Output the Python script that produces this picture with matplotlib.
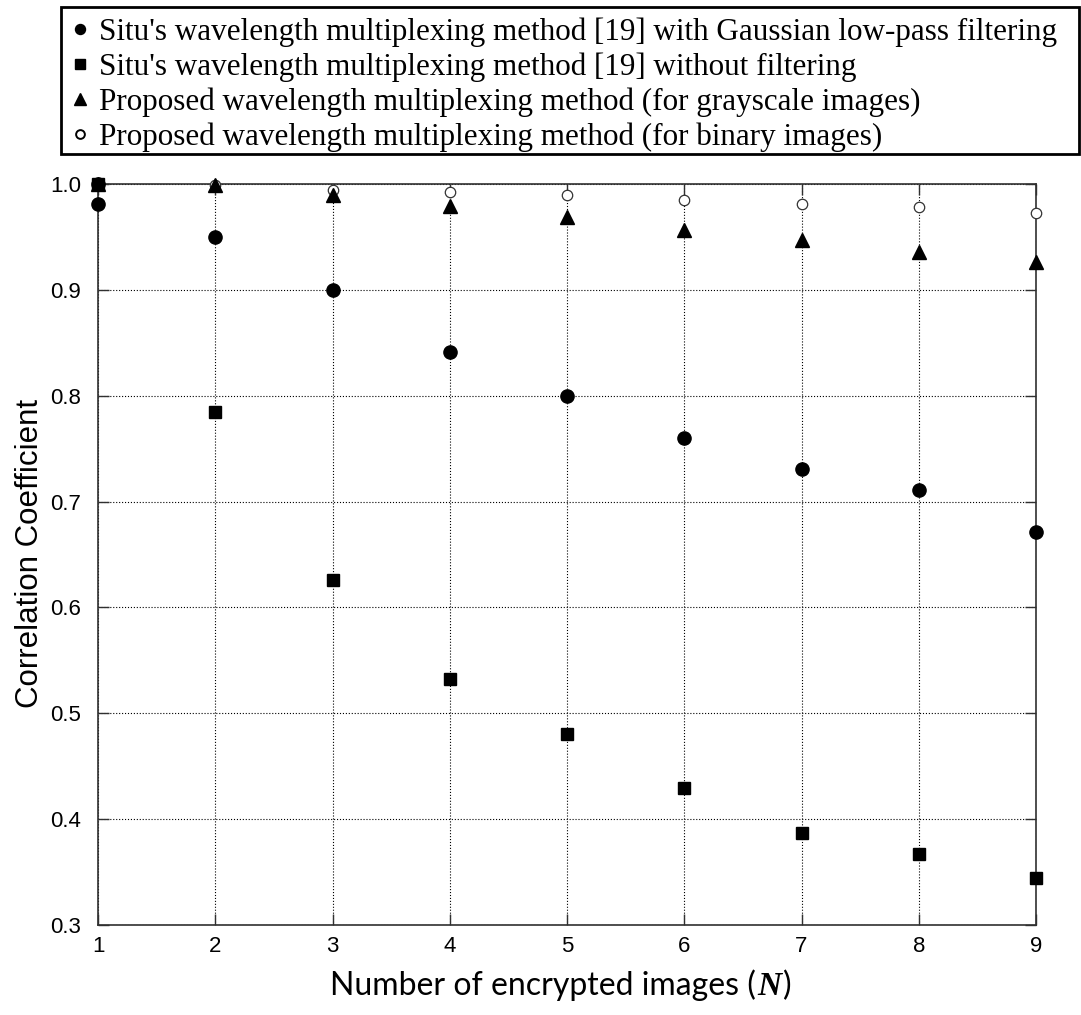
import matplotlib
matplotlib.use("Agg")
import matplotlib.pyplot as plt
from matplotlib.lines import Line2D
from matplotlib.patches import Rectangle

# ---- data ----
N = [1, 2, 3, 4, 5, 6, 7, 8, 9]
situ_gauss_x = [1, 1, 2, 3, 4, 5, 6, 7, 8, 9]
situ_gauss = [1.0, 0.981, 0.950, 0.900, 0.841, 0.800, 0.760, 0.731, 0.711, 0.671]
situ_nofilter = [1.0, 0.785, 0.626, 0.532, 0.480, 0.429, 0.387, 0.367, 0.344]
proposed_gray = [1.0, 0.999, 0.990, 0.979, 0.969, 0.957, 0.947, 0.936, 0.926]
proposed_binary = [1.0, 0.999, 0.994, 0.992, 0.990, 0.985, 0.981, 0.978, 0.973]

legend_labels = [
    "Situ's wavelength multiplexing method [19] with Gaussian low-pass filtering",
    "Situ's wavelength multiplexing method [19] without filtering",
    "Proposed wavelength multiplexing method (for grayscale images)",
    "Proposed wavelength multiplexing method (for binary images)",
]
yticks = [0.3, 0.4, 0.5, 0.6, 0.7, 0.8, 0.9, 1.0]
ytick_labels = ["0.3", "0.4", "0.5", "0.6", "0.7", "0.8", "0.9", "1.0"]
xlabel_main = "Number of encrypted images ("
xlabel_sym = "N"
xlabel_end = ")"
ylabel = "Correlation Coefficient"

W, H = 1081, 1015
fig = plt.figure(figsize=(W / 100, H / 100), dpi=100)
ax = fig.add_axes([98 / W, 1 - 925 / H, (1036 - 98) / W, (925 - 184) / H])

ax.plot(N, proposed_binary, linestyle="none", marker="o", ms=7.5, mfc="white",
        mec="#333333", mew=0.9, clip_on=False, zorder=3)
ax.plot(N, proposed_gray, linestyle="none", marker="^", ms=9.5, color="black",
        clip_on=False, zorder=4)
ax.plot(N, situ_nofilter, linestyle="none", marker="s", ms=8, color="black",
        clip_on=False, zorder=5)
ax.plot(situ_gauss_x, situ_gauss, linestyle="none", marker="o", ms=9.5, color="black",
        clip_on=False, zorder=6)

ax.set_xlim(1, 9)
ax.set_ylim(0.3, 1.0)
ax.set_xticks(N)
ax.set_yticks(yticks)
ax.set_yticklabels(ytick_labels)
ax.grid(True, linestyle=":", color="black", linewidth=0.8)
ax.set_axisbelow(True)
for s in ax.spines.values():
    s.set_color("#303030")
    s.set_linewidth(1.2)
ax.tick_params(direction="in", length=8, width=1, top=True, right=True,
               labelsize=16, colors="#303030", labelcolor="black")
ax.tick_params(axis="y", pad=12)
ax.tick_params(axis="x", pad=8)
for lab in ax.get_xticklabels() + ax.get_yticklabels():
    lab.set_family("Liberation Sans")

fig.text(30 / W, 1 - 553 / H, ylabel, rotation=90, ha="center", va="center",
         fontsize=22.5, family="Liberation Sans")

# x label in pieces
base_y = 1 - 995 / H
t1 = fig.text(330 / W, base_y, xlabel_main, ha="left", va="baseline",
              fontsize=23, family="Lato")
t2 = fig.text(0, base_y, xlabel_sym, fontsize=24, family="Liberation Serif",
              weight="bold", style="italic", ha="left", va="baseline")
t3 = fig.text(0, base_y, xlabel_end, fontsize=23, family="Lato", ha="left", va="baseline")
fig.canvas.draw()
r = fig.canvas.get_renderer()
inv = fig.transFigure.inverted()
bb1 = t1.get_window_extent(r)
x_after = inv.transform((bb1.x1, 0))[0]
t2.set_position((x_after + 1 / W, base_y))
fig.canvas.draw()
bb2 = t2.get_window_extent(r)
x_after2 = inv.transform((bb2.x1, 0))[0]
t3.set_position((x_after2 + 2 / W, base_y))

handles = [
    Line2D([], [], linestyle="none", marker="o", ms=7.2, color="black"),
    Line2D([], [], linestyle="none", marker="s", ms=7, color="black"),
    Line2D([], [], linestyle="none", marker="^", ms=8.5, color="black"),
    Line2D([], [], linestyle="none", marker="o", ms=6.3, mfc="white", mec="black", mew=1.4),
]
leg = fig.legend(handles, legend_labels, loc="upper left",
                 bbox_to_anchor=(68 / W, 1 - 13 / H),
                 prop={"family": "Liberation Serif", "size": 22.4},
                 frameon=False,
                 borderpad=0.15, handlelength=0.45, handletextpad=0.4,
                 labelspacing=0.17, borderaxespad=0, markerfirst=True)

frame = Rectangle((61 / W, 1 - 154 / H), (1079 - 61) / W, (154 - 7) / H,
                  transform=fig.transFigure, fill=False, edgecolor="black",
                  linewidth=2, zorder=10)
fig.add_artist(frame)

fig.savefig("out.png", dpi=100)
